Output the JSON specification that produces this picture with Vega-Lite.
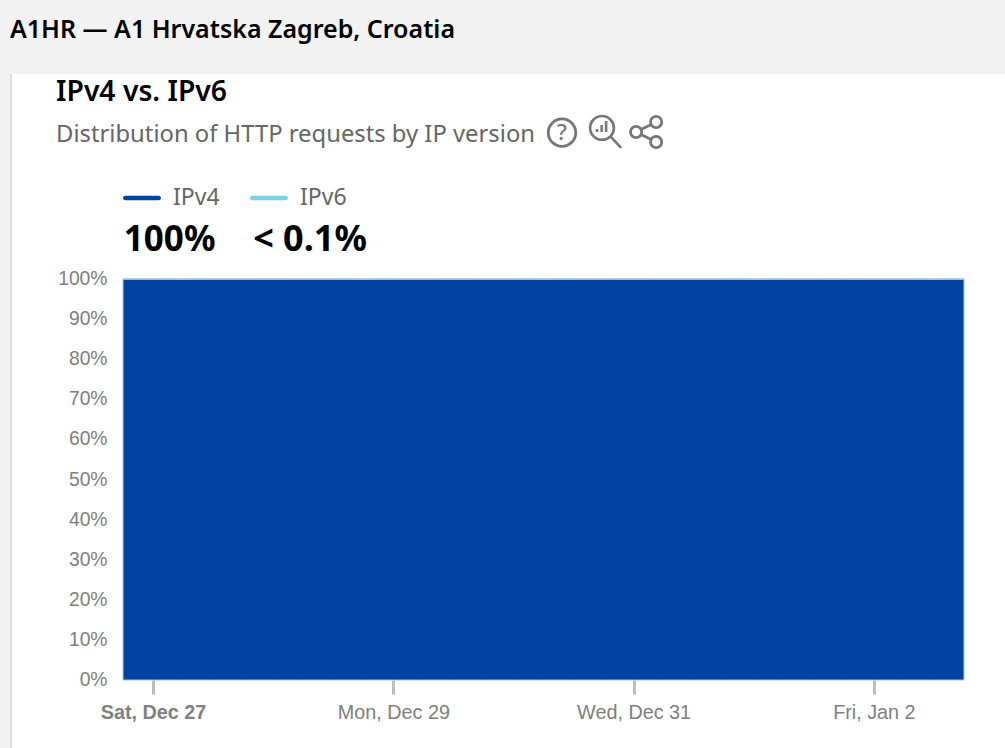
{
  "$schema": "https://vega.github.io/schema/vega-lite/v6.json",
  "width": 994,
  "height": 674,
  "autosize": "none",
  "padding": {"left": 11, "top": 74, "right": 0, "bottom": 0},
  "background": "#f2f2f2",
  "view": {"fill": "#ffffff", "stroke": null},
  "title": {
    "text": "A1HR — A1 Hrvatska Zagreb, Croatia",
    "anchor": "start",
    "frame": "group",
    "font": "Noto Sans",
    "fontSize": 25,
    "fontWeight": 600,
    "color": "#000000",
    "baseline": "middle",
    "dx": -1,
    "offset": 18
  },
  "data": {
    "values": [
      {"time": "2025-12-26T18:00:00", "series": "IPv4", "share": 99.97},
      {"time": "2025-12-27T00:00:00", "series": "IPv4", "share": 99.97},
      {"time": "2025-12-27T06:00:00", "series": "IPv4", "share": 99.96},
      {"time": "2025-12-27T12:00:00", "series": "IPv4", "share": 99.97},
      {"time": "2025-12-27T18:00:00", "series": "IPv4", "share": 99.97},
      {"time": "2025-12-28T00:00:00", "series": "IPv4", "share": 99.98},
      {"time": "2025-12-28T06:00:00", "series": "IPv4", "share": 99.97},
      {"time": "2025-12-28T12:00:00", "series": "IPv4", "share": 99.97},
      {"time": "2025-12-28T18:00:00", "series": "IPv4", "share": 99.96},
      {"time": "2025-12-29T00:00:00", "series": "IPv4", "share": 99.97},
      {"time": "2025-12-29T06:00:00", "series": "IPv4", "share": 99.97},
      {"time": "2025-12-29T12:00:00", "series": "IPv4", "share": 99.98},
      {"time": "2025-12-29T18:00:00", "series": "IPv4", "share": 99.97},
      {"time": "2025-12-30T00:00:00", "series": "IPv4", "share": 99.97},
      {"time": "2025-12-30T06:00:00", "series": "IPv4", "share": 99.96},
      {"time": "2025-12-30T12:00:00", "series": "IPv4", "share": 99.97},
      {"time": "2025-12-30T18:00:00", "series": "IPv4", "share": 99.97},
      {"time": "2025-12-31T00:00:00", "series": "IPv4", "share": 99.98},
      {"time": "2025-12-31T06:00:00", "series": "IPv4", "share": 99.97},
      {"time": "2025-12-31T12:00:00", "series": "IPv4", "share": 99.97},
      {"time": "2025-12-31T18:00:00", "series": "IPv4", "share": 99.97},
      {"time": "2026-01-01T00:00:00", "series": "IPv4", "share": 99.96},
      {"time": "2026-01-01T06:00:00", "series": "IPv4", "share": 99.97},
      {"time": "2026-01-01T12:00:00", "series": "IPv4", "share": 99.97},
      {"time": "2026-01-01T18:00:00", "series": "IPv4", "share": 99.98},
      {"time": "2026-01-02T00:00:00", "series": "IPv4", "share": 99.97},
      {"time": "2026-01-02T06:00:00", "series": "IPv4", "share": 99.97},
      {"time": "2026-01-02T12:00:00", "series": "IPv4", "share": 99.96},
      {"time": "2026-01-02T18:00:00", "series": "IPv4", "share": 99.97},
      {"time": "2025-12-26T18:00:00", "series": "IPv6", "share": 0.03},
      {"time": "2025-12-27T00:00:00", "series": "IPv6", "share": 0.03},
      {"time": "2025-12-27T06:00:00", "series": "IPv6", "share": 0.04},
      {"time": "2025-12-27T12:00:00", "series": "IPv6", "share": 0.03},
      {"time": "2025-12-27T18:00:00", "series": "IPv6", "share": 0.03},
      {"time": "2025-12-28T00:00:00", "series": "IPv6", "share": 0.02},
      {"time": "2025-12-28T06:00:00", "series": "IPv6", "share": 0.03},
      {"time": "2025-12-28T12:00:00", "series": "IPv6", "share": 0.03},
      {"time": "2025-12-28T18:00:00", "series": "IPv6", "share": 0.04},
      {"time": "2025-12-29T00:00:00", "series": "IPv6", "share": 0.03},
      {"time": "2025-12-29T06:00:00", "series": "IPv6", "share": 0.03},
      {"time": "2025-12-29T12:00:00", "series": "IPv6", "share": 0.02},
      {"time": "2025-12-29T18:00:00", "series": "IPv6", "share": 0.03},
      {"time": "2025-12-30T00:00:00", "series": "IPv6", "share": 0.03},
      {"time": "2025-12-30T06:00:00", "series": "IPv6", "share": 0.04},
      {"time": "2025-12-30T12:00:00", "series": "IPv6", "share": 0.03},
      {"time": "2025-12-30T18:00:00", "series": "IPv6", "share": 0.03},
      {"time": "2025-12-31T00:00:00", "series": "IPv6", "share": 0.02},
      {"time": "2025-12-31T06:00:00", "series": "IPv6", "share": 0.03},
      {"time": "2025-12-31T12:00:00", "series": "IPv6", "share": 0.03},
      {"time": "2025-12-31T18:00:00", "series": "IPv6", "share": 0.03},
      {"time": "2026-01-01T00:00:00", "series": "IPv6", "share": 0.04},
      {"time": "2026-01-01T06:00:00", "series": "IPv6", "share": 0.03},
      {"time": "2026-01-01T12:00:00", "series": "IPv6", "share": 0.03},
      {"time": "2026-01-01T18:00:00", "series": "IPv6", "share": 0.02},
      {"time": "2026-01-02T00:00:00", "series": "IPv6", "share": 0.03},
      {"time": "2026-01-02T06:00:00", "series": "IPv6", "share": 0.03},
      {"time": "2026-01-02T12:00:00", "series": "IPv6", "share": 0.04},
      {"time": "2026-01-02T18:00:00", "series": "IPv6", "share": 0.03}
    ]
  },
  "layer": [
    {
      "mark": {"type": "area", "stroke": "#aebfdc", "strokeWidth": 1, "clip": false},
      "encoding": {
        "x": {
          "field": "time",
          "type": "temporal",
          "title": null,
          "scale": {
            "domain": ["2025-12-26T18:00:00", "2026-01-02T18:00:00"],
            "range": [112, 953]
          },
          "axis": {
            "values": ["2025-12-27T00:00:00", "2025-12-29T00:00:00", "2025-12-31T00:00:00", "2026-01-02T00:00:00"],
            "format": "%a, %b %-d",
            "offset": -68,
            "domain": false,
            "grid": false,
            "tickColor": "#bdbdbd",
            "tickWidth": 3,
            "tickSize": 14,
            "labelFont": "Liberation Sans",
            "labelFontSize": 19.8,
            "labelColor": "#808080",
            "labelPadding": 8,
            "labelOverlap": false,
            "labelFontWeight": {"condition": {"test": "datum.value < datetime('2025-12-28T00:00:00')", "value": "bold"}, "value": "normal"}
          }
        },
        "y": {
          "field": "share",
          "type": "quantitative",
          "stack": true,
          "title": null,
          "scale": {"domain": [0, 100], "range": [606, 205], "nice": false},
          "axis": {
            "values": [0, 10, 20, 30, 40, 50, 60, 70, 80, 90, 100],
            "labelExpr": "datum.value + '%'",
            "offset": -112,
            "domain": false,
            "grid": false,
            "ticks": false,
            "labelFont": "Liberation Sans",
            "labelFontSize": 19.3,
            "labelColor": "#808080",
            "labelPadding": 16,
            "labelOffset": -0.5,
            "labelOverlap": false
          }
        },
        "color": {
          "field": "series",
          "type": "nominal",
          "scale": {"domain": ["IPv4", "IPv6"], "range": ["#0044a3", "#78d0e8"]},
          "legend": {
            "title": null,
            "orient": "none",
            "legendX": 112,
            "legendY": 105,
            "direction": "horizontal",
            "symbolType": "M-0.88,-0.12 H0.88 A0.12,0.12 0 0 1 0.88,0.12 H-0.88 A0.12,0.12 0 0 1 -0.88,-0.12 Z",
            "symbolSize": 1444,
            "symbolStrokeWidth": 0,
            "symbolOpacity": 1,
            "labelFont": "Noto Sans",
            "labelFontSize": 23,
            "labelColor": "#666666",
            "labelOffset": 12,
            "columnPadding": 30
          }
        },
        "order": {"field": "series"}
      }
    },
    {
      "data": {"values": [{"edge": "panel"}]},
      "mark": {"type": "rule", "color": "#dcdcdc", "strokeWidth": 2},
      "encoding": {
        "x": {"datum": {"year": 2025, "month": 12, "date": 25, "hours": 19, "minutes": 38}, "type": "temporal"}
      }
    },
    {
      "data": {"values": [{"label": "IPv4 vs. IPv6"}]},
      "mark": {"type": "text", "align": "left", "baseline": "middle", "font": "Noto Sans", "fontSize": 28.3, "fontWeight": 600, "color": "#000000"},
      "encoding": {
        "text": {"field": "label"},
        "x": {"datum": {"year": 2025, "month": 12, "date": 26, "hours": 4, "minutes": 37}, "type": "temporal"},
        "y": {"datum": 146.4, "type": "quantitative"}
      }
    },
    {
      "data": {"values": [{"label": "Distribution of HTTP requests by IP version"}]},
      "mark": {"type": "text", "align": "left", "baseline": "middle", "font": "Noto Sans", "fontSize": 23.8, "color": "#666666"},
      "encoding": {
        "text": {"field": "label"},
        "x": {"datum": {"year": 2025, "month": 12, "date": 26, "hours": 4, "minutes": 37}, "type": "temporal"},
        "y": {"datum": 136, "type": "quantitative"}
      }
    },
    {
      "data": {"values": [{"label": "100%"}]},
      "mark": {"type": "text", "align": "left", "baseline": "middle", "font": "Noto Sans", "fontSize": 35, "fontWeight": 700, "color": "#000000"},
      "encoding": {
        "text": {"field": "label"},
        "x": {"datum": {"year": 2025, "month": 12, "date": 26, "hours": 18, "minutes": 10}, "type": "temporal"},
        "y": {"datum": 109.7, "type": "quantitative"}
      }
    },
    {
      "data": {"values": [{"label": "< 0.1%"}]},
      "mark": {"type": "text", "align": "left", "baseline": "middle", "font": "Noto Sans", "fontSize": 36, "fontWeight": 700, "color": "#000000"},
      "encoding": {
        "text": {"field": "label"},
        "x": {"datum": {"year": 2025, "month": 12, "date": 27, "hours": 20, "minutes": 0}, "type": "temporal"},
        "y": {"datum": 109.7, "type": "quantitative"}
      }
    },
    {
      "data": {"values": [{"icon": "help"}]},
      "mark": {"type": "point", "shape": "circle", "filled": false, "size": 755, "stroke": "#777777", "strokeWidth": 2.8, "opacity": 1},
      "encoding": {
        "x": {"datum": {"year": 2025, "month": 12, "date": 30, "hours": 9, "minutes": 42}, "type": "temporal"},
        "y": {"datum": 136.5, "type": "quantitative"}
      }
    },
    {
      "data": {"values": [{"label": "?"}]},
      "mark": {"type": "text", "align": "center", "baseline": "middle", "font": "Noto Sans", "fontSize": 22, "fontWeight": 500, "color": "#777777"},
      "encoding": {
        "text": {"field": "label"},
        "x": {"datum": {"year": 2025, "month": 12, "date": 30, "hours": 9, "minutes": 42}, "type": "temporal"},
        "y": {"datum": 136.5, "type": "quantitative"}
      }
    },
    {
      "data": {"values": [{"icon": "search"}]},
      "mark": {
        "type": "point",
        "filled": false,
        "size": 1156,
        "stroke": "#777777",
        "strokeWidth": 2.6,
        "opacity": 1,
        "shape": "M0.52,-0.24 A0.7,0.7 0 1 1 -0.88,-0.24 A0.7,0.7 0 1 1 0.52,-0.24 Z M0.32,0.26 L0.94,0.94 M-0.47,0 V-0.18 M-0.2,0 V-0.41 M0.06,0 V-0.65"
      },
      "encoding": {
        "x": {"datum": {"year": 2025, "month": 12, "date": 30, "hours": 18, "minutes": 18}, "type": "temporal"},
        "y": {"datum": 136.66, "type": "quantitative"}
      }
    },
    {
      "data": {"values": [{"icon": "share"}]},
      "mark": {
        "type": "point",
        "filled": false,
        "size": 1156,
        "stroke": "#777777",
        "strokeWidth": 2.8,
        "opacity": 1,
        "shape": "M0.92,-0.59 A0.33,0.33 0 1 1 0.26,-0.59 A0.33,0.33 0 1 1 0.92,-0.59 Z M0.92,0.59 A0.33,0.33 0 1 1 0.26,0.59 A0.33,0.33 0 1 1 0.92,0.59 Z M-0.26,0 A0.33,0.33 0 1 1 -0.92,0 A0.33,0.33 0 1 1 -0.26,0 Z M-0.3,-0.15 L0.3,-0.44 M-0.3,0.15 L0.3,0.44"
      },
      "encoding": {
        "x": {"datum": {"year": 2025, "month": 12, "date": 31, "hours": 2, "minutes": 30}, "type": "temporal"},
        "y": {"datum": 136.66, "type": "quantitative"}
      }
    }
  ]
}
